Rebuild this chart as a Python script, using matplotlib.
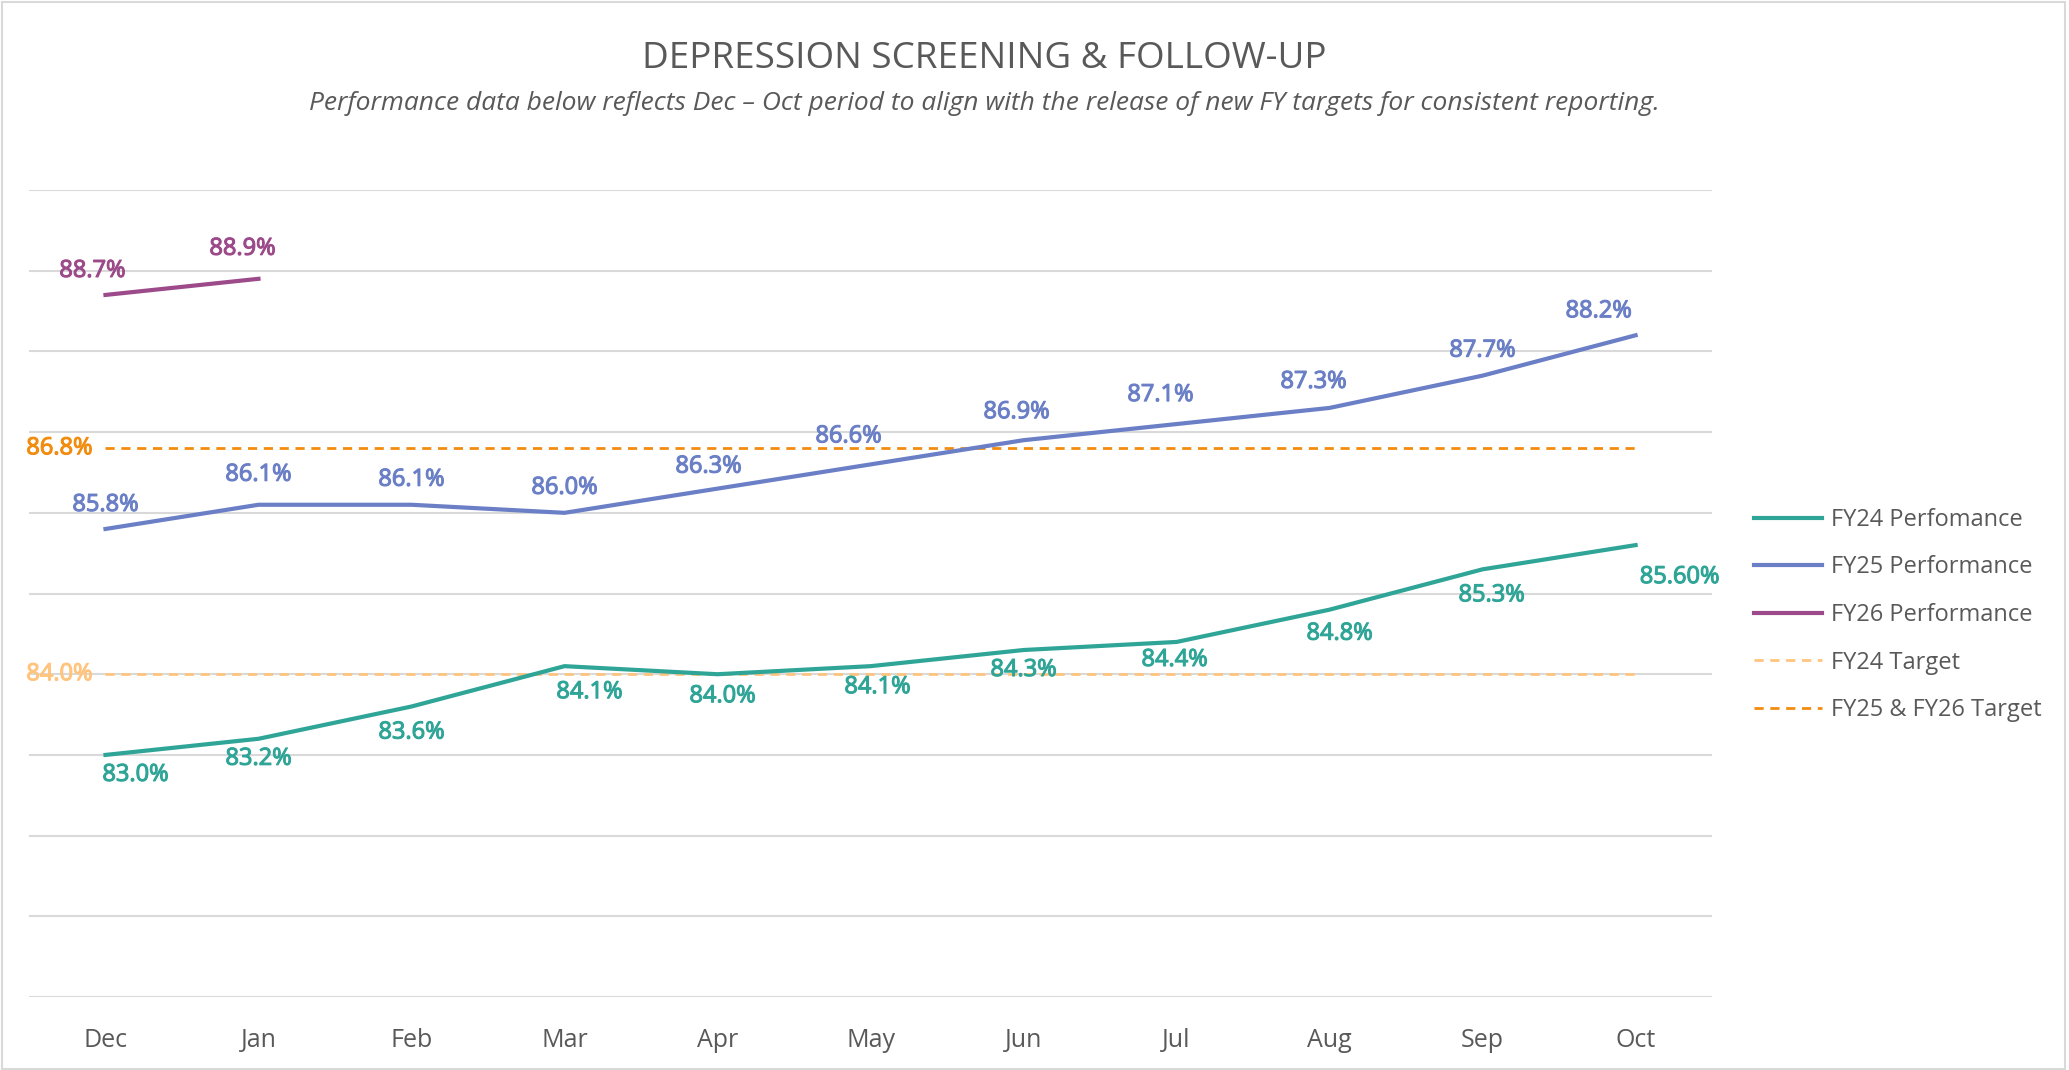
import matplotlib
matplotlib.use("Agg")
import matplotlib.pyplot as plt
import matplotlib.patheffects as pe
from matplotlib.patches import Rectangle

plt.rcParams['font.family'] = ['Open Sans', 'DejaVu Sans']

# donnees
months = ["Dec", "Jan", "Feb", "Mar", "Apr", "May", "Jun", "Jul", "Aug", "Sep", "Oct"]
fy24 = [83.0, 83.2, 83.6, 84.1, 84.0, 84.1, 84.3, 84.4, 84.8, 85.3, 85.6]
fy25 = [85.8, 86.1, 86.1, 86.0, 86.3, 86.6, 86.9, 87.1, 87.3, 87.7, 88.2]
fy26 = [88.7, 88.9]
fy24_target = [84.0] * 11
fy25_target = [86.8] * 11

fy24_labels = ["83.0%", "83.2%", "83.6%", "84.1%", "84.0%", "84.1%", "84.3%", "84.4%", "84.8%", "85.3%", "85.60%"]
fy25_labels = ["85.8%", "86.1%", "86.1%", "86.0%", "86.3%", "86.6%", "86.9%", "87.1%", "87.3%", "87.7%", "88.2%"]
fy26_labels = ["88.7%", "88.9%"]

c24 = "#2FA597"
c25 = "#6A7FC6"
c26 = "#9C4A8A"
ct24 = "#FFC47E"
ct25 = "#F28C0F"
grey = "#595959"

# decalage des etiquettes (pixels)
off24 = [(30, -20), (0, -20), (0, -26), (25, -26), (5, -22), (7, -21), (0, -20), (-2, -18), (10, -24), (9, -26), (44, -32)]
off25 = [(0, 24), (0, 30), (0, 25), (0, 25), (-9, 22), (-22, 28), (-7, 28), (-16, 29), (-16, 26), (0, 25), (-37, 24)]
off26 = [(-13, 24), (-16, 30)]


def etiquette(txt, xy, off, col, ha="center"):
    # texte un peu plus gras (semi-bold)
    t = ax.annotate(txt, xy, xytext=off, textcoords="offset pixels",
                    ha=ha, va="center", color=col, fontsize=17)
    t.set_path_effects([pe.withStroke(linewidth=0.8, foreground=col)])
    return t


fig = plt.figure(figsize=(20.69, 10.70), dpi=100)
ax = fig.add_axes([0.014, 0.0682, 0.8135, 0.7542])
x = list(range(len(months)))

ax.plot(x, fy24, color=c24, lw=3, label="FY24 Perfomance", zorder=3)
ax.plot(x, fy25, color=c25, lw=3, label="FY25 Performance", zorder=3)
ax.plot(x[:len(fy26)], fy26, color=c26, lw=3, label="FY26 Performance", zorder=3)
ax.plot(x, fy24_target, color=ct24, lw=2, ls=(0, (3.3, 2.4)), label="FY24 Target", zorder=2)
ax.plot(x, fy25_target, color=ct25, lw=2, ls=(0, (3.3, 2.4)), label="FY25 & FY26 Target", zorder=2)

for i in range(len(fy24)):
    etiquette(fy24_labels[i], (x[i], fy24[i]), off24[i], c24)
for i in range(len(fy25)):
    etiquette(fy25_labels[i], (x[i], fy25[i]), off25[i], c25)
for i in range(len(fy26)):
    etiquette(fy26_labels[i], (x[i], fy26[i]), off26[i], c26)

etiquette("84.0%", (x[0], fy24_target[0]), (-13, 0), ct24, ha="right")
etiquette("86.8%", (x[0], fy25_target[0]), (-13, 0), ct25, ha="right")

ax.set_xlim(-0.5, 10.5)
ax.set_ylim(80, 90)
ax.set_yticks(range(80, 91))
ax.set_yticklabels([])
ax.set_xticks(x)
ax.set_xticklabels(months, fontsize=18, color=grey)
ax.tick_params(axis="both", length=0)
ax.tick_params(axis="x", pad=22)
ax.grid(axis="y", color="#D9D9D9", lw=1.5)
ax.set_axisbelow(True)
for s in ax.spines.values():
    s.set_visible(False)

fig.text(0.4756, 0.9446, "DEPRESSION SCREENING & FOLLOW-UP", ha="center", va="center",
         fontsize=26.5, color=grey)
fig.text(0.4756, 0.9035, "Performance data below reflects Dec \u2013 Oct period to align with the release of new FY targets for consistent reporting.",
         ha="center", va="center", fontsize=19, style="italic", color=grey)

leg = ax.legend(loc="center left", bbox_to_anchor=(0.8477, 0.4252), bbox_transform=fig.transFigure,
                frameon=False, fontsize=17, handlelength=2.9, handletextpad=0.35, labelspacing=1.0,
                borderpad=0, borderaxespad=0)
for t in leg.get_texts():
    t.set_color(grey)

fig.patches.append(Rectangle((0.001, 0.001), 0.997, 0.997, transform=fig.transFigure,
                             fill=False, edgecolor="#D9D9D9", lw=1.5))

fig.savefig("out.png", dpi=100, facecolor="white")
